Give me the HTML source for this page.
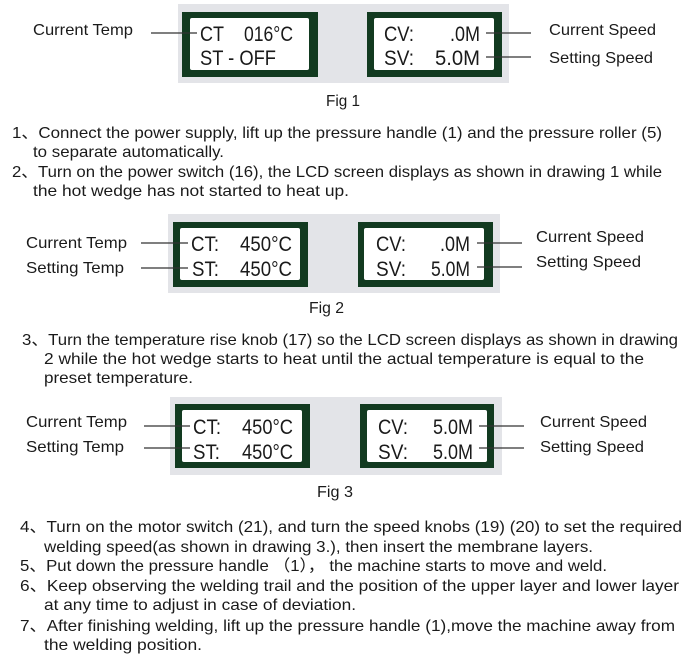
<!DOCTYPE html>
<html><head><meta charset="utf-8"><style>
html,body{margin:0;padding:0;background:#fff;}
svg{display:block;}
text{font-family:"Liberation Sans",sans-serif;fill:#1a1a1a;}
.b{font-size:16px;}
.l{font-size:21px;}
</style></head><body>
<svg width="690" height="667" viewBox="0 0 690 667" xmlns="http://www.w3.org/2000/svg">
<g stroke="#333" stroke-width="1.3">
<!-- fig1 -->
<rect x="178" y="4" width="331" height="79" fill="#e3e4e8" stroke="none"/>
<rect x="182" y="12" width="136" height="65" fill="#123a20" stroke="none"/>
<rect x="190" y="18" width="119" height="52" fill="#fff" stroke="none" rx="2"/>
<rect x="367" y="12" width="135" height="65" fill="#123a20" stroke="none"/>
<rect x="374" y="18" width="120" height="52" fill="#fff" stroke="none" rx="2"/>
<line x1="151" y1="33" x2="197" y2="33"/>
<line x1="486" y1="33" x2="531" y2="33"/>
<line x1="486" y1="57" x2="531" y2="57"/>
<!-- fig2 -->
<rect x="168" y="214" width="332" height="79" fill="#e3e4e8" stroke="none"/>
<rect x="173" y="222" width="135" height="65" fill="#123a20" stroke="none"/>
<rect x="180" y="228" width="120" height="52" fill="#fff" stroke="none" rx="2"/>
<rect x="358" y="222" width="135" height="65" fill="#123a20" stroke="none"/>
<rect x="364" y="228" width="120" height="52" fill="#fff" stroke="none" rx="2"/>
<line x1="141" y1="243" x2="188" y2="243"/>
<line x1="141" y1="268" x2="188" y2="268"/>
<line x1="477" y1="243" x2="522" y2="243"/>
<line x1="477" y1="267" x2="522" y2="267"/>
<!-- fig3 -->
<rect x="170" y="397" width="332" height="78" fill="#e3e4e8" stroke="none"/>
<rect x="175" y="404" width="135" height="64" fill="#123a20" stroke="none"/>
<rect x="182" y="410" width="120" height="52" fill="#fff" stroke="none" rx="2"/>
<rect x="360" y="404" width="134" height="64" fill="#123a20" stroke="none"/>
<rect x="367" y="410" width="120" height="52" fill="#fff" stroke="none" rx="2"/>
<line x1="144" y1="426" x2="190" y2="426"/>
<line x1="144" y1="448" x2="190" y2="448"/>
<line x1="479" y1="426" x2="524" y2="426"/>
<line x1="479" y1="448" x2="524" y2="448"/>
</g>
<!-- fig1 text -->
<text class="b" x="33" y="35" textLength="100" lengthAdjust="spacingAndGlyphs">Current Temp</text>
<text class="l" x="200" y="41" textLength="24" lengthAdjust="spacingAndGlyphs">CT</text>
<text class="l" x="244" y="41" textLength="49" lengthAdjust="spacingAndGlyphs">016°C</text>
<text class="l" x="200" y="65" textLength="76" lengthAdjust="spacingAndGlyphs">ST - OFF</text>
<text class="l" x="384" y="41" textLength="30" lengthAdjust="spacingAndGlyphs">CV:</text>
<text class="l" x="450" y="41" textLength="30" lengthAdjust="spacingAndGlyphs">.0M</text>
<text class="l" x="384" y="65" textLength="30" lengthAdjust="spacingAndGlyphs">SV:</text>
<text class="l" x="435" y="65" textLength="45" lengthAdjust="spacingAndGlyphs">5.0M</text>
<text class="b" x="549" y="35" textLength="107" lengthAdjust="spacingAndGlyphs">Current Speed</text>
<text class="b" x="549" y="63" textLength="104" lengthAdjust="spacingAndGlyphs">Setting Speed</text>
<text class="b" x="326" y="106" textLength="34" lengthAdjust="spacingAndGlyphs">Fig 1</text>
<!-- fig2 text -->
<text class="b" x="26" y="248" textLength="101" lengthAdjust="spacingAndGlyphs">Current Temp</text>
<text class="b" x="26" y="273" textLength="98" lengthAdjust="spacingAndGlyphs">Setting Temp</text>
<text class="l" x="191" y="251" textLength="28" lengthAdjust="spacingAndGlyphs">CT:</text>
<text class="l" x="240" y="251" textLength="52" lengthAdjust="spacingAndGlyphs">450°C</text>
<text class="l" x="192" y="276" textLength="27" lengthAdjust="spacingAndGlyphs">ST:</text>
<text class="l" x="240" y="276" textLength="52" lengthAdjust="spacingAndGlyphs">450°C</text>
<text class="l" x="376" y="251" textLength="30" lengthAdjust="spacingAndGlyphs">CV:</text>
<text class="l" x="440" y="251" textLength="30" lengthAdjust="spacingAndGlyphs">.0M</text>
<text class="l" x="376" y="276" textLength="30" lengthAdjust="spacingAndGlyphs">SV:</text>
<text class="l" x="431" y="276" textLength="39" lengthAdjust="spacingAndGlyphs">5.0M</text>
<text class="b" x="536" y="242" textLength="108" lengthAdjust="spacingAndGlyphs">Current Speed</text>
<text class="b" x="536" y="267" textLength="105" lengthAdjust="spacingAndGlyphs">Setting Speed</text>
<text class="b" x="309" y="313" textLength="35" lengthAdjust="spacingAndGlyphs">Fig 2</text>
<!-- fig3 text -->
<text class="b" x="26" y="427" textLength="101" lengthAdjust="spacingAndGlyphs">Current Temp</text>
<text class="b" x="26" y="452" textLength="98" lengthAdjust="spacingAndGlyphs">Setting Temp</text>
<text class="l" x="193" y="434" textLength="28" lengthAdjust="spacingAndGlyphs">CT:</text>
<text class="l" x="242" y="434" textLength="51" lengthAdjust="spacingAndGlyphs">450°C</text>
<text class="l" x="193" y="459" textLength="27" lengthAdjust="spacingAndGlyphs">ST:</text>
<text class="l" x="242" y="459" textLength="51" lengthAdjust="spacingAndGlyphs">450°C</text>
<text class="l" x="378" y="434" textLength="30" lengthAdjust="spacingAndGlyphs">CV:</text>
<text class="l" x="433" y="434" textLength="40" lengthAdjust="spacingAndGlyphs">5.0M</text>
<text class="l" x="378" y="459" textLength="30" lengthAdjust="spacingAndGlyphs">SV:</text>
<text class="l" x="433" y="459" textLength="40" lengthAdjust="spacingAndGlyphs">5.0M</text>
<text class="b" x="540" y="427" textLength="107" lengthAdjust="spacingAndGlyphs">Current Speed</text>
<text class="b" x="540" y="452" textLength="104" lengthAdjust="spacingAndGlyphs">Setting Speed</text>
<text class="b" x="317" y="497" textLength="36" lengthAdjust="spacingAndGlyphs">Fig 3</text>
<!-- paragraphs -->
<text class="b" x="12" y="138" textLength="650" lengthAdjust="spacingAndGlyphs">1、Connect the power supply, lift up the pressure handle (1) and the pressure roller (5)</text>
<text class="b" x="33" y="157" textLength="191" lengthAdjust="spacingAndGlyphs">to separate automatically.</text>
<text class="b" x="12" y="177" textLength="650" lengthAdjust="spacingAndGlyphs">2、Turn on the power switch (16), the LCD screen displays as shown in drawing 1 while</text>
<text class="b" x="33" y="196" textLength="316" lengthAdjust="spacingAndGlyphs">the hot wedge has not started to heat up.</text>
<text class="b" x="22" y="345" textLength="656" lengthAdjust="spacingAndGlyphs">3、Turn the temperature rise knob (17) so the LCD screen displays as shown in drawing</text>
<text class="b" x="44" y="364" textLength="600" lengthAdjust="spacingAndGlyphs">2 while the hot wedge starts to heat until the actual temperature is equal to the</text>
<text class="b" x="44" y="383" textLength="149" lengthAdjust="spacingAndGlyphs">preset temperature.</text>
<text class="b" x="20" y="532" textLength="662" lengthAdjust="spacingAndGlyphs">4、Turn on the motor switch (21), and turn the speed knobs (19) (20) to set the required</text>
<text class="b" x="44" y="552" textLength="549" lengthAdjust="spacingAndGlyphs">welding speed(as shown in drawing 3.), then insert the membrane layers.</text>
<text class="b" x="20" y="571" textLength="587" lengthAdjust="spacingAndGlyphs">5、Put down the pressure handle （1）， the machine starts to move and weld.</text>
<text class="b" x="20" y="591" textLength="659" lengthAdjust="spacingAndGlyphs">6、Keep observing the welding trail and the position of the upper layer and lower layer</text>
<text class="b" x="44" y="610" textLength="312" lengthAdjust="spacingAndGlyphs">at any time to adjust in case of deviation.</text>
<text class="b" x="20" y="631" textLength="655" lengthAdjust="spacingAndGlyphs">7、After finishing welding, lift up the pressure handle (1),move the machine away from</text>
<text class="b" x="44" y="650" textLength="158" lengthAdjust="spacingAndGlyphs">the welding position.</text>
</svg>
</body></html>
